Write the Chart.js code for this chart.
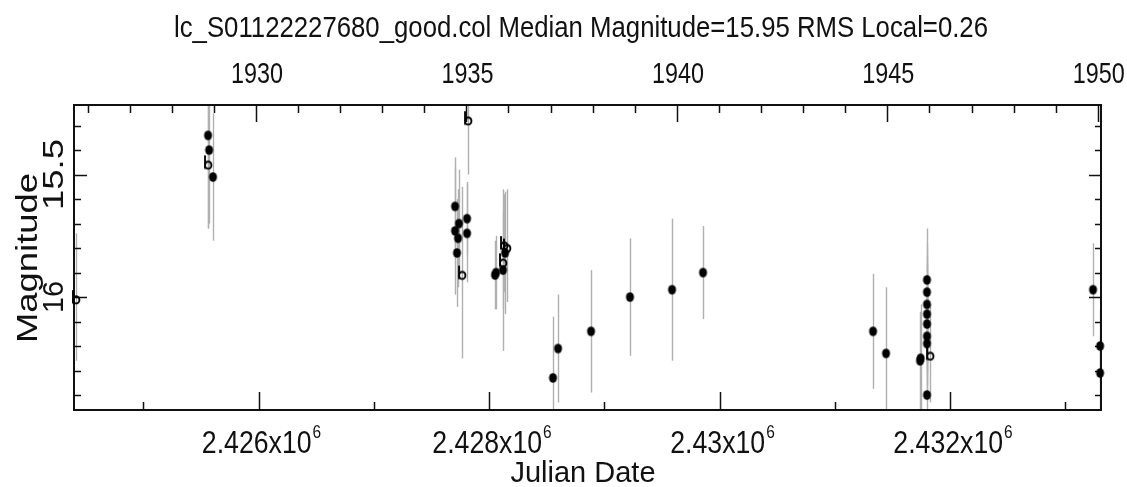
<!DOCTYPE html>
<html>
<head>
<meta charset="utf-8">
<script src="https://cdn.jsdelivr.net/npm/chart.js@4.4.1/dist/chart.umd.min.js"></script>
<style>
html,body{margin:0;padding:0;background:#fff;}
#wrap{width:1127px;height:487px;}
</style>
</head>
<body>
<div id="wrap"><canvas id="c" width="1127" height="487"></canvas></div>
<script>
// ---- data ----
const titleText = "lc_S01122227680_good.col Median Magnitude=15.95 RMS Local=0.26";
const xTitle = "Julian Date";
const yTitle = "Magnitude";

// filled dots
const jdFilled  = [2425562,2425571,2425605,2427705,2427705,2427739,2427731,2427722,2427809,2427809,
                   2428052,2428061,2428121,2428139,2428555,2428599,2428885,2429223,2429588,2429857,
                   2431332,2431445,2431740,2431745,2431800,2431800,2431800,2431800,2431800,2431800,
                   2431800,2431800,2433241,2433302,2433302];
const magFilled = [15.34,15.40,15.51,15.63,15.73,15.70,15.76,15.82,15.68,15.74,
                   15.91,15.90,15.89,15.82,16.33,16.21,16.14,16.00,15.97,15.90,
                   16.14,16.23,16.26,16.25,15.93,15.98,16.03,16.07,16.11,16.16,
                   16.19,16.40,15.97,16.20,16.31];
const errFilled = [0.38,0.30,0.26,0.20,0.26,0.22,0.20,0.22,0.15,0.20,
                   0.14,0.15,0.33,0.25,0.25,0.22,0.25,0.24,0.29,0.19,
                   0.235,0.27,0.20,0.22,0.21,0.20,0.20,0.20,0.20,0.20,
                   0.20,0.20,0.19,0.15,0.15];
// open "b" symbols
const jdOpen  = [2424416,2425562,2427818,2427766,2428121,2428130,2428156,2431827];
const magOpen = [16.00,15.45,15.27,15.90,15.85,15.78,15.79,16.23];
const errOpen = [0.26,0.27,0.23,0.35,0.20,0.20,0.23,0.20];

// axes
const jdMin = 2424399, jdMax = 2433310;
const magMin = 15.216, magMax = 16.461;
const jdTickValues = [2426000,2428000,2430000,2432000];
const jdTickLabels = ["2.426x10","2.428x10","2.43x10","2.432x10"];
const jdTickExp = "6";
const yearTickValues = [1930,1935,1940,1945,1950];
const yearTickLabels = ["1930","1935","1940","1945","1950"];
const magTickValues = [15.5,16];
const magTickLabels = ["15.5","16"];

// ---- helpers ----
const FONT = '"Liberation Sans", Arial, sans-serif';
function jdOfYear(y){ return 2425977.5 + (y-1930)*365.25; }

function makeDot(){
  const c=document.createElement('canvas'); c.width=11; c.height=12;
  const g=c.getContext('2d'); g.fillStyle='#000';
  g.beginPath(); g.ellipse(5.5,6,4.0,4.8,0,0,Math.PI*2); g.fill();
  return c;
}
function makeB(){
  const c=document.createElement('canvas'); c.width=12; c.height=16;
  const g=c.getContext('2d'); g.strokeStyle='#000'; g.lineWidth=1.9;
  g.beginPath(); g.moveTo(3,1); g.lineTo(3,14.5); g.stroke();
  g.beginPath(); g.ellipse(6.2,10.8,3.2,3.6,0,0,Math.PI*2); g.stroke();
  return c;
}
function txt(ctx,s,x,y,size,targetW,rot){
  ctx.save();
  ctx.translate(x,y);
  if(rot) ctx.rotate(rot);
  ctx.font = size+'px '+FONT;
  const w = ctx.measureText(s).width;
  const sx = targetW ? targetW/w : 1;
  ctx.scale(sx,1);
  ctx.textAlign='center'; ctx.textBaseline='alphabetic';
  ctx.fillText(s,0,0);
  ctx.restore();
}

const decor = {
  id:'decor',
  beforeDatasetsDraw(chart){
    const ctx=chart.ctx, a=chart.chartArea, xs=chart.scales.x, ys=chart.scales.y;
    // error bars
    ctx.save();
    ctx.beginPath(); ctx.rect(a.left,a.top,a.right-a.left,a.bottom-a.top); ctx.clip();
    ctx.strokeStyle='#b0b0b0'; ctx.lineWidth=1.4;
    const bars=(jd,m,e)=>{
      for(let i=0;i<jd.length;i++){
        const px=Math.round(xs.getPixelForValue(jd[i]))+0.5;
        ctx.beginPath();
        ctx.moveTo(px, ys.getPixelForValue(m[i]-e[i]));
        ctx.lineTo(px, ys.getPixelForValue(m[i]+e[i]));
        ctx.stroke();
      }
    };
    bars(jdFilled,magFilled,errFilled);
    bars(jdOpen,magOpen,errOpen);
    ctx.restore();

    // frame
    ctx.save();
    ctx.strokeStyle='#111'; ctx.lineWidth=2;
    ctx.strokeRect(a.left,a.top,a.right-a.left,a.bottom-a.top);
    ctx.lineWidth=1.5;
    ctx.beginPath();
    for(let v=2425000; v<=2433000; v+=1000){
      const px=Math.round(xs.getPixelForValue(v))+0.5;
      const L = (v%2000===0)?18:8;
      ctx.moveTo(px,a.bottom); ctx.lineTo(px,a.bottom-L);
    }
    for(let yr=1925; yr<=1950; yr++){
      const px=Math.round(xs.getPixelForValue(jdOfYear(yr)))+0.5;
      if(px<a.left+1||px>a.right) continue;
      const L=(yr%5===0)?17:8;
      ctx.moveTo(px,a.top); ctx.lineTo(px,a.top+L);
    }
    for(let k=153;k<=164;k++){
      const v=k/10;
      const py=Math.round(ys.getPixelForValue(v))+0.5;
      const maj=(k%5===0);
      ctx.moveTo(a.left,py); ctx.lineTo(a.left+(maj?13:7),py);
      ctx.moveTo(a.right,py); ctx.lineTo(a.right-(maj?12:6),py);
    }
    ctx.stroke();
    ctx.restore();

    // texts
    ctx.save();
    ctx.fillStyle='#111';
    txt(ctx,titleText,581,37,30,814);
    yearTickValues.forEach((yr,i)=>{
      const px=xs.getPixelForValue(jdOfYear(yr));
      txt(ctx,yearTickLabels[i],px+1,83,30,52);
    });
    jdTickValues.forEach((v,i)=>{
      const px=xs.getPixelForValue(v);
      ctx.font='31px '+FONT;
      const mainW=ctx.measureText(jdTickLabels[i]).width*0.86;
      ctx.font='18px '+FONT;
      const supW=ctx.measureText(jdTickExp).width*0.86;
      const total=mainW+supW+1;
      const left=px+3-total/2;
      txt(ctx,jdTickLabels[i],left+mainW/2,453,31,mainW);
      txt(ctx,jdTickExp,left+mainW+1+supW/2,438,18,supW);
    });
    txt(ctx,xTitle,583,482,30,145);
    magTickValues.forEach((v,i)=>{
      const py=ys.getPixelForValue(v);
      txt(ctx,magTickLabels[i],63,py,30,magTickLabels[i].length>2?71:32,-Math.PI/2);
    });
    txt(ctx,yTitle,37,258,30,170,-Math.PI/2);
    ctx.restore();
  }
};

const dot=makeDot(), bsym=makeB();
const toPts=(jd,m)=>jd.map((x,i)=>({x:x,y:m[i]}));

new Chart(document.getElementById('c'),{
  type:'scatter',
  data:{datasets:[
    {label:'open',data:toPts(jdOpen,magOpen),pointStyle:bsym,pointRadius:6,clip:false},
    {label:'filled',data:toPts(jdFilled,magFilled),pointStyle:dot,pointRadius:5,clip:false}
  ]},
  options:{
    responsive:false,
    devicePixelRatio:1,
    animation:false,
    layout:{padding:{left:74,top:105,right:26,bottom:77}},
    plugins:{legend:{display:false},tooltip:{enabled:false}},
    scales:{
      x:{type:'linear',min:jdMin,max:jdMax,display:false},
      y:{type:'linear',min:magMin,max:magMax,reverse:true,display:false}
    }
  },
  plugins:[decor]
});
</script>
</body>
</html>
